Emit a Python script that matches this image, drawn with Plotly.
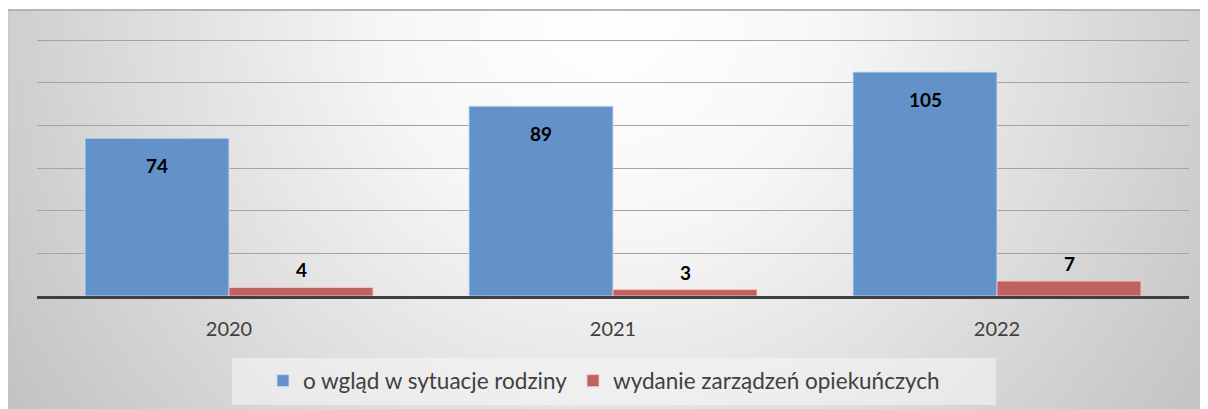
import plotly.graph_objects as go
import urllib.parse

years = ["2020", "2021", "2022"]
series_names = ["o wgląd w sytuacje rodziny", "wydanie zarządzeń opiekuńczych"]
values_wglad = [74, 89, 105]
values_zarzadzenia = [4, 3, 7]

OFF = 8  # page body margin
W, H = 1208 - OFF, 409 - OFF
L, R, T, B = 37 - OFF, 1189 - OFF, 39 - OFF, 296 - OFF  # plot area in figure px
pw, ph = R - L, B - T


def px(x):
    return (x - OFF - L) / pw


def py(y):
    return (B - (y - OFF)) / ph


blue = "#6392c8"
red = "#c0625f"
font_family = "Lato, Carlito, Calibri, sans-serif"

fig = go.Figure()
fig.add_trace(go.Bar(x=years, y=values_wglad, name=series_names[0], legend="legend",
                     marker=dict(color=blue, line=dict(color="rgba(200,220,245,0.9)", width=1))))
fig.add_trace(go.Bar(x=years, y=values_zarzadzenia, name=series_names[1], legend="legend2",
                     marker=dict(color=red, line=dict(color="rgba(245,200,200,0.9)", width=1))))

annotations = []
for i, v in enumerate(values_wglad):
    annotations.append(dict(x=i, y=v, xref="x", yref="y", text=f"<b>{v}</b>", showarrow=False,
                            yanchor="top", xshift=-72, yshift=-14,
                            font=dict(family=font_family, size=19, color="#000000")))
for i, v in enumerate(values_zarzadzenia):
    annotations.append(dict(x=i, y=v, xref="x", yref="y", text=f"<b>{v}</b>", showarrow=False,
                            yanchor="bottom", xshift=72, yshift=4,
                            font=dict(family=font_family, size=19, color="#000000")))

svg = ('<svg xmlns="http://www.w3.org/2000/svg" width="1200" height="400" viewBox="0 0 1200 400" preserveAspectRatio="none">'
       '<defs><radialGradient id="g" gradientUnits="userSpaceOnUse" cx="600" cy="0" r="720">'
       '<stop offset="0" stop-color="#ffffff"/><stop offset="0.3" stop-color="#f7f7f7"/>'
       '<stop offset="1" stop-color="#c2c2c2"/></radialGradient></defs>'
       '<rect x="0" y="0" width="1200" height="400" fill="url(#g)"/></svg>')
src = "data:image/svg+xml;charset=utf-8," + urllib.parse.quote(svg)

box_x0, box_x1 = px(8), px(1212)
box_y1, box_y0 = py(10), py(412)

legend_style = dict(orientation="h", xanchor="left", yanchor="middle", y=py(381),
                    bgcolor="rgba(0,0,0,0)", borderwidth=0,
                    font=dict(family=font_family, size=22.5, color="#404040"), itemwidth=30)

fig.update_layout(
    width=W, height=H,
    margin=dict(l=L, r=W - R, t=T, b=H - B, pad=0, autoexpand=False),
    paper_bgcolor="#ffffff", plot_bgcolor="rgba(0,0,0,0)",
    barmode="group", bargap=0.25, bargroupgap=0,
    showlegend=True,
    legend=dict(x=px(263), **legend_style),
    legend2=dict(x=px(573), **legend_style),
    images=[dict(source=src, xref="paper", yref="paper", x=box_x0, y=box_y1,
                 sizex=box_x1 - box_x0, sizey=box_y1 - box_y0, sizing="stretch",
                 layer="below", opacity=1)],
    shapes=[
        dict(type="rect", xref="paper", yref="paper", x0=px(232), x1=px(996), y0=py(405), y1=py(358),
             fillcolor="rgba(245,245,245,0.6)", line=dict(width=0), layer="below"),
        dict(type="line", xref="paper", yref="paper", x0=box_x0, x1=box_x1, y0=box_y1, y1=box_y1,
             line=dict(color="#b4b4b4", width=2), layer="below"),
        dict(type="line", xref="paper", yref="paper", x0=box_x0, x1=box_x0, y0=box_y0, y1=box_y1,
             line=dict(color="#c0c0c0", width=1), layer="below"),
    ],
    annotations=annotations,
    xaxis=dict(type="category", range=[-0.5, 2.5], showline=True, linecolor="#404040", linewidth=3,
               showgrid=False, ticks="",
               tickfont=dict(family=font_family, size=20, color="#404040"), ticklabelstandoff=13),
    yaxis=dict(range=[0, 120.5], dtick=20, showgrid=True, gridcolor="#a4a4a4", gridwidth=1,
               showticklabels=False, zeroline=False, showline=False),
)

fig.write_html("out.html")
